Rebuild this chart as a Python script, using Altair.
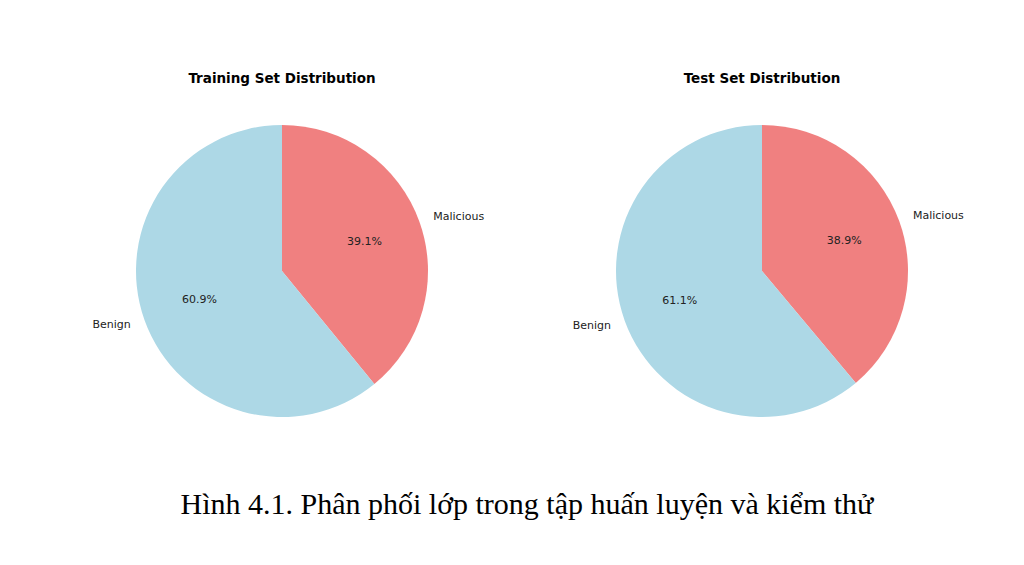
import math
import altair as alt
import pandas as pd

categories = ["Malicious", "Benign"]
colors = ["#F08080", "#ADD8E6"]
train_pct = [39.1, 60.9]
test_pct = [38.9, 61.1]
titles = ["Training Set Distribution", "Test Set Distribution"]
caption = "Hình 4.1. Phân phối lớp trong tập huấn luyện và kiểm thử"

R = 146
W, H = 400, 340
theta_scale = alt.Scale(domain=[0, 100], range=[0, 2 * math.pi])


def pie(values, title):
    df = pd.DataFrame({"label": categories, "pct": values, "order": [0, 1]})
    base = (
        alt.Chart(df)
        .transform_window(cum="sum(pct)", sort=[alt.SortField("order")])
        .transform_calculate(
            start="datum.cum - datum.pct",
            mid="datum.cum - datum.pct / 2",
            txt="format(datum.pct, '.1f') + '%'",
        )
    )
    arcs = base.mark_arc(outerRadius=R).encode(
        theta=alt.Theta("start:Q", scale=theta_scale),
        theta2="cum:Q",
        color=alt.Color(
            "label:N",
            scale=alt.Scale(domain=categories, range=colors),
            legend=None,
        ),
    )
    pcts = base.mark_text(
        radius=0.6 * R, fontSize=11, font="DejaVu Sans", color="#222222",
        align="center", baseline="middle",
    ).encode(theta=alt.Theta("mid:Q", scale=theta_scale), text="txt:N")
    lab_r = (
        base.transform_filter("datum.label == 'Malicious'")
        .mark_text(radius=1.1 * R, fontSize=11, font="DejaVu Sans",
                   color="#222222", align="left", baseline="middle")
        .encode(theta=alt.Theta("mid:Q", scale=theta_scale), text="label:N")
    )
    lab_l = (
        base.transform_filter("datum.label == 'Benign'")
        .mark_text(radius=1.1 * R, fontSize=11, font="DejaVu Sans",
                   color="#222222", align="right", baseline="middle")
        .encode(theta=alt.Theta("mid:Q", scale=theta_scale), text="label:N")
    )
    return alt.layer(arcs, pcts, lab_r, lab_l).properties(
        width=W,
        height=H,
        title=alt.TitleParams(
            title, font="DejaVu Sans", fontSize=13.5, fontWeight="bold",
            color="black", offset=16, anchor="middle",
        ),
    )


chart = (
    alt.hconcat(pie(train_pct, titles[0]), pie(test_pct, titles[1]), spacing=77)
    .properties(
        title=alt.TitleParams(
            caption, orient="bottom", font="Liberation Serif", fontSize=30,
            fontWeight="normal", color="black", offset=49, anchor="middle", dx=4,
        ),
        padding={"left": 74, "top": 63, "right": 10, "bottom": 10},
    )
    .configure_view(stroke=None)
    .configure(background="white")
)

chart.save("out.html", embed_options={"renderer": "svg", "actions": False})
